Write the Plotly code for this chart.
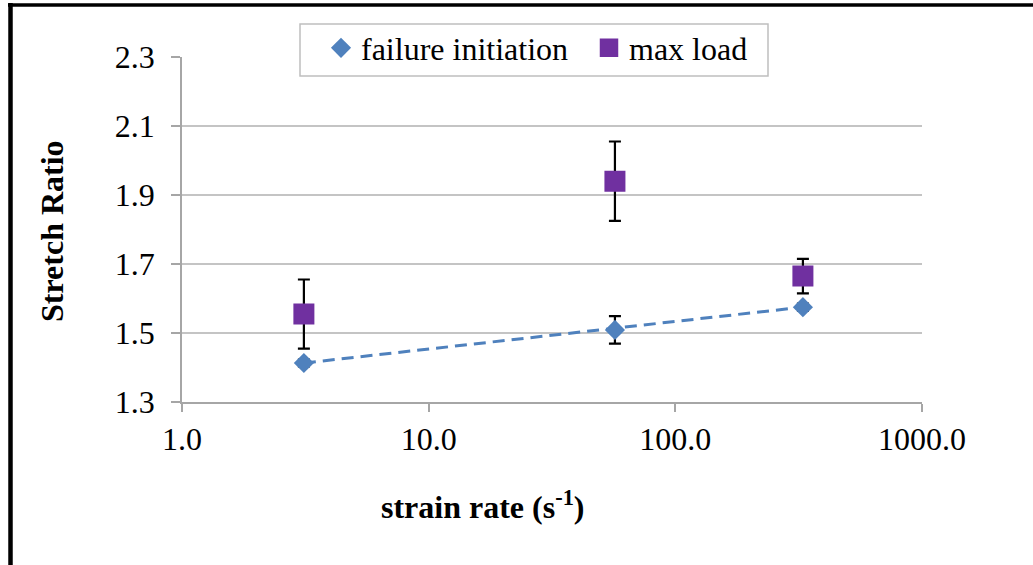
import plotly.graph_objects as go

# Data
strain_rate = [3.12, 56.9, 329.0]
fail_init = [1.413, 1.509, 1.575]
fail_init_err = [0.01, 0.04, 0.01]
max_load = [1.555, 1.940, 1.665]
max_load_err = [0.10, 0.115, 0.05]
trend_x = [3.12, 329.0]
trend_y = [1.413, 1.575]
x_tickvals = [1, 10, 100, 1000]
x_ticktext = ["1.0", "10.0", "100.0", "1000.0"]
y_tickvals = [1.3, 1.5, 1.7, 1.9, 2.1, 2.3]
series_names = ["failure initiation", "max load"]

FONT = "Liberation Serif"
FS = 32

# plot area in pixels (page coords)
L, R, T, B = 182, 922, 57, 402
W, H = 1033, 565


def px(x):
    return (x - L) / (R - L)


def py(y):
    return (B - y) / (B - T)


fig = go.Figure()
fig.add_trace(go.Scatter(
    x=trend_x, y=trend_y, mode="lines", showlegend=False,
    line=dict(color="#4F81BD", width=3, dash="12px,7px"), hoverinfo="skip"))
fig.add_trace(go.Scatter(
    x=strain_rate, y=fail_init, mode="markers", name=series_names[0],
    marker=dict(symbol="diamond", size=15.5, color="#4F81BD"),
    error_y=dict(type="data", array=fail_init_err, color="black", thickness=2.2, width=6)))
fig.add_trace(go.Scatter(
    x=strain_rate, y=max_load, mode="markers", name=series_names[1],
    marker=dict(symbol="square", size=18.5, color="#7030A0",
                line=dict(color="#7030A0", width=2.5)),
    error_y=dict(type="data", array=max_load_err, color="black", thickness=2.2, width=6)))

fig.update_layout(
    width=W, height=H,
    margin=dict(l=L, r=W - R, t=T, b=H - B),
    paper_bgcolor="white", plot_bgcolor="white",
    font=dict(family=FONT, size=FS, color="black"),
    legend=dict(
        orientation="h", x=px(321), y=py(48), xanchor="left", yanchor="middle",
        bgcolor="rgba(0,0,0,0)", borderwidth=0,
        font=dict(family=FONT, size=FS, color="black"),
        entrywidth=223, entrywidthmode="pixels", itemsizing="trace",
    ),
    xaxis=dict(
        type="log", range=[0, 3], tickvals=x_tickvals, ticktext=x_ticktext,
        showgrid=False, showline=True, linecolor="#a6a6a6", linewidth=1.5,
        ticks="outside", ticklen=8, tickcolor="#a6a6a6", tickwidth=1.5,
        tickfont=dict(family=FONT, size=FS, color="black"), zeroline=False,
    ),
    yaxis=dict(
        range=[1.3, 2.3], tickvals=y_tickvals, tickformat=".1f",
        showgrid=True, gridcolor="#c4c4c4", gridwidth=1.5,
        showline=True, linecolor="#a6a6a6", linewidth=1.5,
        ticks="outside", ticklen=9, tickcolor="#a6a6a6", tickwidth=1.5,
        tickfont=dict(family=FONT, size=FS, color="black"), zeroline=False,
        ticklabelstandoff=10,
    ),
    shapes=[
        dict(type="rect", xref="paper", yref="paper", x0=px(300), x1=px(768),
             y0=py(76), y1=py(24), fillcolor="white", layer="above",
             line=dict(color="#bfbfbf", width=1.5)),
        dict(type="line", xref="paper", yref="paper", x0=px(10.5), x1=px(10.5),
             y0=py(570), y1=py(3), line=dict(color="black", width=4.5)),
        dict(type="line", xref="paper", yref="paper", x0=px(8), x1=px(1040),
             y0=py(5), y1=py(5), line=dict(color="black", width=3.5)),
    ],
    annotations=[
        dict(text="<b>strain rate (s<sup>-1</sup>)</b>", xref="paper", yref="paper",
             x=px(482), y=py(505), xanchor="center", yanchor="middle",
             showarrow=False, font=dict(family=FONT, size=FS, color="black")),
        dict(text="<b>Stretch Ratio</b>", xref="paper", yref="paper",
             x=px(52), y=py(231), xanchor="center", yanchor="middle", textangle=-90,
             showarrow=False, font=dict(family=FONT, size=FS, color="black")),
    ],
)

fig.write_html("out.html", config={"displayModeBar": False},
               post_script="document.body.style.margin='0px';")
